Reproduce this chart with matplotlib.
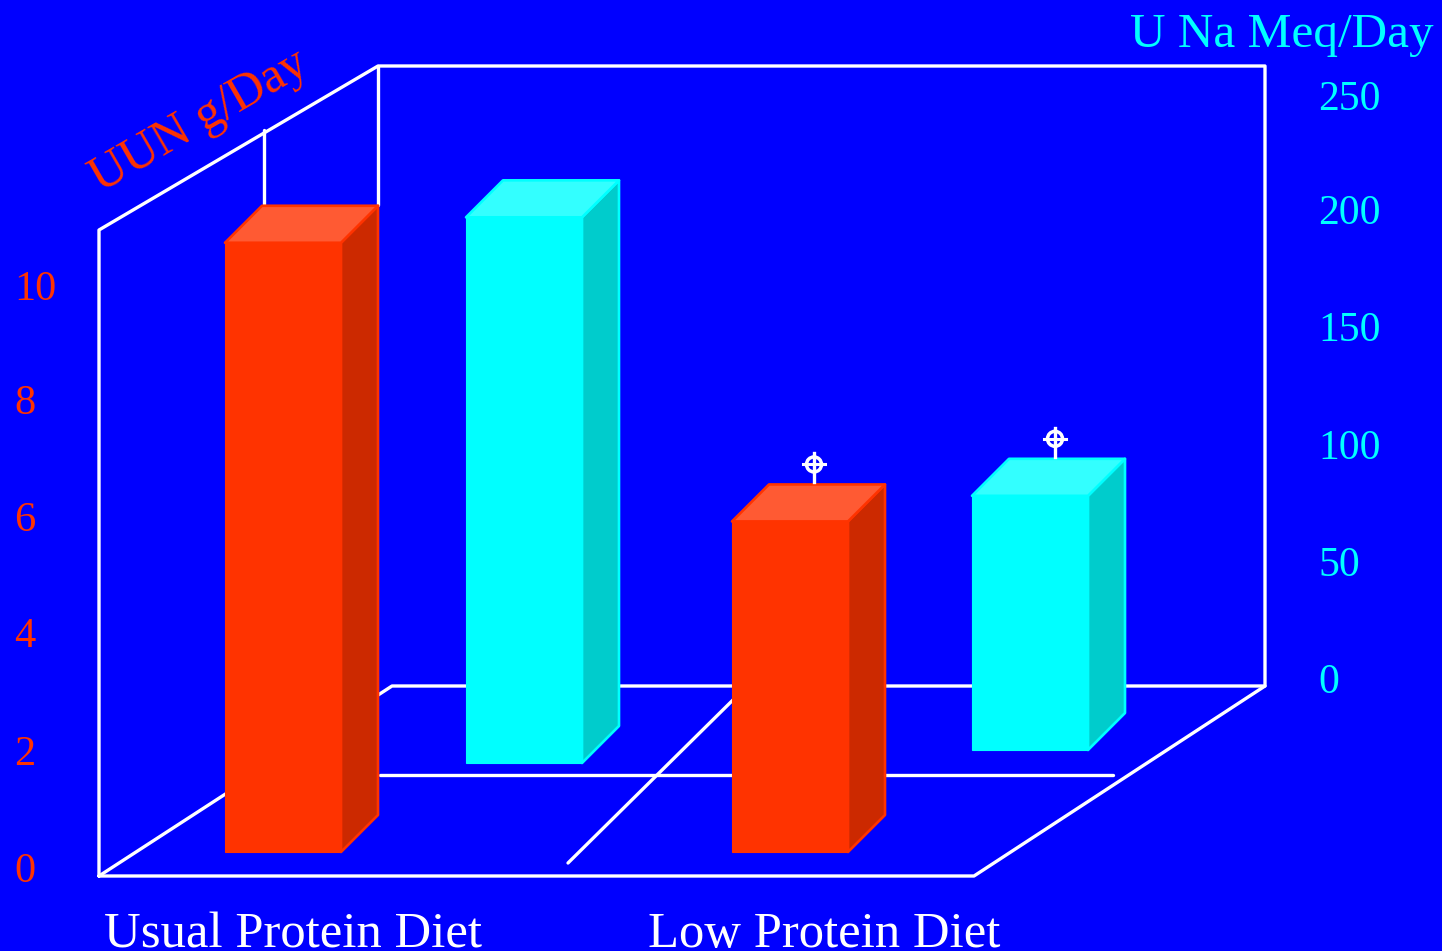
import matplotlib
matplotlib.use("Agg")
import matplotlib.pyplot as plt
from matplotlib.patches import Polygon, Circle

# Measured values
diets = ["Usual Protein Diet", "Low Protein Diet"]
uun_values = [10.45, 5.67]       # g/day
sodium_values = [234, 109]       # mEq/day
uun_ticks = [0, 2, 4, 6, 8, 10]
sodium_ticks = [0, 50, 100, 150, 200, 250]
significant = [False, True]

BLUE = "#0000FF"
RED = "#FF3300"
CYAN = "#00FFFF"
WHITE = "#FFFFFF"
UUN_SCALE = 58.3
NA_SCALE = 2.332
DEPTH = 37
BAR_W = 116

plt.rcParams["font.family"] = ["Liberation Serif", "DejaVu Serif"]
fig = plt.figure(figsize=(14.42, 9.51), dpi=100, facecolor=BLUE)
ax = fig.add_axes([0, 0, 1, 1])
ax.set_xlim(0, 1442)
ax.set_ylim(951, 0)
ax.axis("off")


def wire(xs, ys):
    ax.plot(xs, ys, color=WHITE, lw=2.4, zorder=1, solid_capstyle="round")


# Wireframe of the 3D chart box
wire([99, 99, 378, 1265, 1265, 974, 99], [876, 230, 66, 66, 686, 876, 876])
wire([99, 392, 1265], [876, 686, 686])
wire([378, 378], [66, 205])
wire([264, 264], [130, 205])
wire([380, 1113], [775, 775])
wire([568, 740], [863, 693])


def bar_3d(x, base, height, front, top, side):
    t = base - height
    ax.add_patch(Polygon([(x + BAR_W, t), (x + BAR_W + DEPTH, t - DEPTH),
                          (x + BAR_W + DEPTH, base - DEPTH), (x + BAR_W, base)],
                         fc=side, ec=front, lw=1.9, zorder=2, joinstyle="round"))
    ax.add_patch(Polygon([(x, t), (x + DEPTH, t - DEPTH), (x + BAR_W + DEPTH, t - DEPTH),
                          (x + BAR_W, t)],
                         fc=top, ec=front, lw=1.9, zorder=2, joinstyle="round"))
    ax.add_patch(Polygon([(x, t), (x + BAR_W, t), (x + BAR_W, base), (x, base)],
                         fc=front, ec=front, lw=0.8, zorder=3))
    return t


def sig_mark(cx, top_y):
    cy = top_y - 20
    ax.plot([cx, cx], [cy - 11, top_y - 2], color=WHITE, lw=2.4, zorder=4)
    ax.plot([cx - 11, cx + 11], [cy, cy], color=WHITE, lw=2.2, zorder=4)
    ax.add_patch(Circle((cx, cy), 7.5, fc="none", ec=WHITE, lw=2.5, zorder=4))


red_x = [225, 732]
cyan_x = [466, 972]
red_base = [852, 852]
cyan_base = [763, 750]

for i in range(2):
    t_red = bar_3d(red_x[i], red_base[i], uun_values[i] * UUN_SCALE,
                   RED, "#FF5A33", "#CC2900")
    t_cyan = bar_3d(cyan_x[i], cyan_base[i], sodium_values[i] * NA_SCALE,
                    CYAN, "#33FFFF", "#00CCCC")
    if significant[i]:
        sig_mark(red_x[i] + 82, t_red - DEPTH)
        sig_mark(cyan_x[i] + 83, t_cyan - DEPTH)

# Axis tick labels, set by hand along each side wall
uun_label_y = [867.5, 750.5, 632.5, 516.5, 399.5, 285]
sodium_label_y = [678.5, 561.5, 444.5, 326.5, 209.5, 95.5]
for v, y in zip(uun_ticks, uun_label_y):
    ax.text(14, y, str(v), color=RED, fontsize=30.5,
            va="center_baseline", ha="left", zorder=5)
for v, y in zip(sodium_ticks, sodium_label_y):
    ax.text(1318, y, str(v), color=CYAN, fontsize=30,
            va="center_baseline", ha="left", zorder=5)

# Axis titles and category labels
ax.text(1130, 47, "U Na Meq/Day", color=CYAN, fontsize=35.5, va="baseline", ha="left", zorder=5)
ax.text(100, 192, "UUN g/Day", color=RED, fontsize=36, rotation=30,
        rotation_mode="anchor", va="baseline", ha="left", zorder=5)
ax.text(104, 947, diets[0], color=WHITE, fontsize=36.5, va="baseline", ha="left", zorder=5)
ax.text(648, 947, diets[1], color=WHITE, fontsize=36.5, va="baseline", ha="left", zorder=5)

fig.savefig("out.png", dpi=100, facecolor=BLUE)
